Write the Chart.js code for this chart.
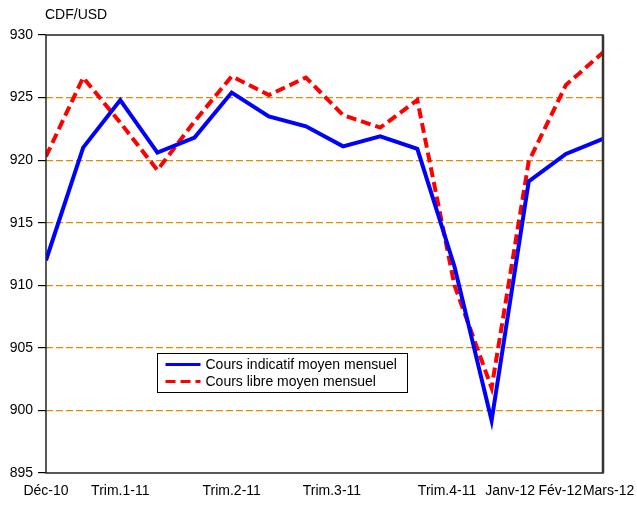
<!DOCTYPE html>
<html>
<head>
<meta charset="utf-8">
<script src="https://cdn.jsdelivr.net/npm/chart.js@4.4.1/dist/chart.umd.min.js"></script>
<style>
  body { margin: 0; background: #fff; }
  #wrap { width: 637px; height: 505px; }
</style>
</head>
<body>
<div id="wrap"><canvas id="chart" width="637" height="505"></canvas></div>
<script>
// mois de Déc-10 à Mars-12
const months = ['Déc-10', 'Janv-11', 'Févr-11', 'Mars-11', 'Avr-11', 'Mai-11', 'Juin-11', 'Juil-11',
  'Août-11', 'Sept-11', 'Oct-11', 'Nov-11', 'Déc-11', 'Janv-12', 'Fév-12', 'Mars-12'];
const coursIndicatif = [912.0, 921.0, 924.8, 920.6, 921.8, 925.4, 923.5, 922.7,
  921.1, 921.9, 920.9, 911.5, 899.2, 918.3, 920.5, 921.7];
const coursLibre = [920.3, 926.6, 923.0, 919.2, 923.1, 926.7, 925.2, 926.6,
  923.6, 922.6, 924.8, 910.0, 901.8, 919.9, 926.0, 928.6];
const tickLabels = ['Déc-10', 'Trim.1-11', 'Trim.2-11', 'Trim.3-11', 'Trim.4-11', 'Janv-12', 'Fév-12', 'Mars-12'];
// où les étiquettes tombent sur l'axe (en mois)
const tickAt = [0, 2, 5, 7.7, 10.8, 12.5, 13.85, 15.15];

const FONT = "'Liberation Sans', Arial, sans-serif";

function toPoints(values) {
  return values.map(function (v, i) { return { x: i, y: v }; });
}

// cadre + titre de l'axe + légende
const extras = {
  id: 'extras',
  afterDatasetsDraw(chart) {
    const ctx = chart.ctx;
    const a = chart.chartArea;
    ctx.save();
    ctx.strokeStyle = '#222';
    ctx.lineWidth = 1.5;
    ctx.strokeRect(a.left, a.top, a.right - a.left, a.bottom - a.top);
    ctx.strokeStyle = '#333';
    ctx.lineWidth = 2.5;
    ctx.beginPath();
    ctx.moveTo(a.right, a.top);
    ctx.lineTo(a.right, a.bottom);
    ctx.stroke();
    ctx.restore();
  },
  afterDraw(chart) {
    const ctx = chart.ctx;
    const a = chart.chartArea;
    ctx.save();
    ctx.fillStyle = '#000';
    ctx.font = '14px ' + FONT;
    ctx.textBaseline = 'middle';
    ctx.fillText('CDF/USD', a.left - 1, 15);

    // légende
    const bx = 157.5, by = 353.5, bw = 250, bh = 39;
    ctx.fillStyle = '#fff';
    ctx.fillRect(bx, by, bw, bh);
    ctx.strokeStyle = '#000';
    ctx.lineWidth = 1;
    ctx.strokeRect(bx, by, bw, bh);
    ctx.font = '14px ' + FONT;
    chart.data.datasets.forEach(function (ds, i) {
      const y = by + 11 + i * 17;
      ctx.strokeStyle = ds.borderColor;
      ctx.lineWidth = 3;
      ctx.setLineDash(ds.borderDash || []);
      ctx.beginPath();
      ctx.moveTo(bx + 8, y);
      ctx.lineTo(bx + 43, y);
      ctx.stroke();
      ctx.setLineDash([]);
      ctx.fillStyle = '#000';
      ctx.fillText(ds.label, bx + 48, y + 1);
    });
    ctx.restore();
  }
};

new Chart(document.getElementById('chart'), {
  type: 'line',
  data: {
    datasets: [
      {
        label: 'Cours indicatif moyen mensuel',
        data: toPoints(coursIndicatif),
        borderColor: '#0000FF',
        borderWidth: 4,
        pointRadius: 0,
        tension: 0,
      },
      {
        label: 'Cours libre moyen mensuel',
        data: toPoints(coursLibre),
        borderColor: '#FF0000',
        borderWidth: 4,
        borderDash: [10, 5],
        pointRadius: 0,
        tension: 0,
      },
    ],
  },
  options: {
    responsive: false,
    animation: false,
    layout: { padding: { top: 35, right: 34, left: 0, bottom: 0 } },
    plugins: {
      legend: { display: false },
      tooltip: { enabled: false },
    },
    scales: {
      x: {
        type: 'linear',
        min: 0,
        max: months.length - 1,
        afterBuildTicks: function (scale) {
          scale.ticks = tickAt.map(function (v) { return { value: v }; });
        },
        afterFit: function (scale) {
          scale.height = 32;
          scale.paddingLeft = 0;
          scale.paddingRight = 0;
        },
        grid: { display: false },
        border: { display: false },
        ticks: {
          autoSkip: false,
          maxRotation: 0,
          padding: 2,
          color: '#000',
          font: { size: 14, family: FONT },
          callback: function (value, index) { return tickLabels[index]; },
        },
      },
      y: {
        min: 895,
        max: 930,
        afterFit: function (scale) { scale.width = 46; },
        border: { display: false, dash: [7, 3] },
        grid: {
          color: function (c) {
            return (c.tick.value === 895 || c.tick.value === 930) ? 'rgba(0,0,0,0)' : '#E38A00';
          },
          tickColor: '#000',
          tickBorderDash: [],
          tickLength: 8,
          lineWidth: 1.2,
        },
        ticks: {
          stepSize: 5,
          padding: 5,
          color: '#000',
          font: { size: 14, family: FONT },
        },
      },
    },
  },
  plugins: [extras],
});
</script>
</body>
</html>
